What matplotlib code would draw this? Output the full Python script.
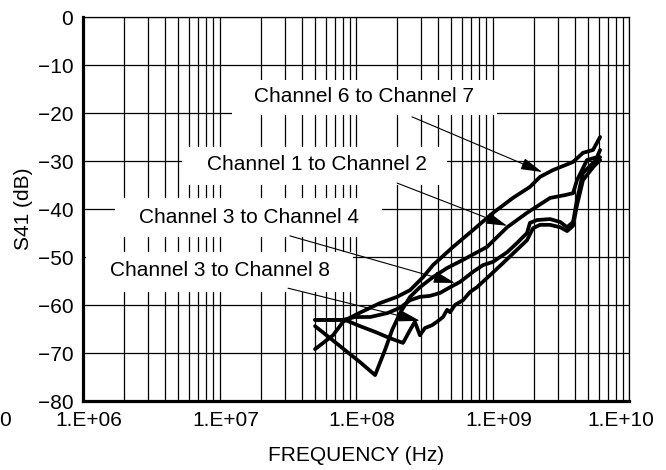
import matplotlib
matplotlib.use("Agg")
import matplotlib.pyplot as plt
from matplotlib.patches import Rectangle
from matplotlib.ticker import LogLocator, NullFormatter

plt.rcParams['font.family'] = ['Liberation Sans', 'DejaVu Sans']
FS = 15

# ---------------- data ----------------
f_ch67 = [5.01e7, 6.79e7, 8.04e7, 9.84e7, 1.50e8, 2.00e8, 2.49e8, 3.10e8, 3.66e8,
          5.14e8, 7.19e8, 1.01e9, 1.41e9, 1.88e9, 2.23e9, 2.77e9, 3.89e9, 4.60e9,
          5.45e9, 6.14e9]
s_ch67 = [-69.2, -66.3, -63.5, -62.1, -59.6, -58.3, -56.9, -54.2, -51.7,
          -47.9, -44.4, -40.8, -37.7, -35.4, -33.3, -31.9, -30.2, -28.3,
          -27.7, -25.0]

f_ch12 = [5.01e7, 6.46e7, 8.30e7, 1.07e8, 1.38e8, 1.63e8, 1.84e8, 2.10e8, 2.49e8,
          2.94e8, 3.66e8, 4.65e8, 6.08e8, 9.12e8, 1.28e9, 1.79e9, 2.64e9, 3.40e9,
          3.89e9, 4.16e9, 4.92e9, 5.83e9, 6.14e9]
s_ch12 = [-64.4, -66.9, -69.4, -71.9, -74.6, -69.4, -65.2, -61.7, -58.3,
          -56.3, -54.2, -52.3, -50.6, -47.9, -43.8, -40.8, -37.7, -37.1,
          -36.7, -34.0, -29.8, -29.2, -27.7]

f_ch34 = [5.01e7, 6.46e7, 8.04e7, 9.84e7, 1.27e8, 1.69e8, 2.10e8, 2.49e8, 2.94e8,
          3.48e8, 4.12e8, 4.89e8, 5.78e8, 7.19e8, 8.51e8, 1.01e9, 1.28e9, 1.51e9,
          1.79e9, 1.88e9, 2.12e9, 2.64e9, 3.13e9, 3.52e9, 3.89e9, 4.16e9, 4.60e9,
          5.45e9, 6.14e9]
s_ch34 = [-63.1, -63.1, -63.1, -62.5, -62.5, -61.7, -60.6, -59.0, -58.3,
          -58.1, -57.5, -56.3, -55.2, -53.1, -51.7, -51.0, -49.0, -47.1,
          -45.0, -42.9, -42.3, -42.1, -42.7, -43.8, -42.7, -38.1, -32.5,
          -30.4, -29.2]

f_ch38 = [5.01e7, 6.46e7, 8.30e7, 1.07e8, 1.38e8, 1.77e8, 2.21e8, 2.49e8, 2.70e8,
          2.94e8, 3.20e8, 3.61e8, 3.92e8, 4.34e8, 4.65e8, 4.89e8, 5.31e8, 6.08e8,
          6.84e8, 7.69e8, 9.59e8, 1.19e9, 1.51e9, 1.79e9, 1.98e9, 2.23e9, 2.64e9,
          3.13e9, 3.52e9, 3.89e9, 4.16e9, 4.60e9, 5.45e9, 6.14e9]
s_ch38 = [-63.1, -63.1, -63.1, -64.4, -65.6, -66.9, -67.9, -65.2, -63.5,
          -66.3, -64.8, -64.2, -63.5, -62.5, -61.0, -61.5, -60.0, -59.0,
          -57.3, -56.3, -53.8, -51.3, -48.5, -46.5, -44.0, -43.3, -43.3,
          -43.8, -44.6, -43.5, -39.2, -34.0, -31.3, -29.8]

yticks = [0, -10, -20, -30, -40, -50, -60, -70, -80]
xtick_vals = [1e6, 1e7, 1e8, 1e9, 1e10]
xtick_labels = ["1.E+06", "1.E+07", "1.E+08", "1.E+09", "1.E+10"]

labels = ["Channel 6 to Channel 7", "Channel 1 to Channel 2",
          "Channel 3 to Channel 4", "Channel 3 to Channel 8"]
arrow_start = [(2.57e8, -20.8), (2.0e8, -34.6), (3.28e7, -45.6), (3.18e7, -56.5)]
arrow_tip = [(2.31e9, -32.3), (1.28e9, -43.5), (5.31e8, -55.4), (2.94e8, -63.3)]

# --------------- layout ---------------
W, H = 666, 470
fig = plt.figure(figsize=(W / 100, H / 100), dpi=100)
ax = fig.add_axes([83 / W, (H - 401) / H, (629 - 83) / W, (401 - 17) / H])

ax.set_xscale('log')
ax.set_xlim(1e6, 1e10)
ax.set_ylim(-80, 0)

ax.xaxis.set_minor_locator(LogLocator(base=10, subs=range(2, 10), numticks=100))
ax.xaxis.set_minor_formatter(NullFormatter())
ax.set_xticks(xtick_vals)
ax.set_xticklabels([])
ax.set_yticks(yticks)
ax.set_yticklabels([str(v).replace('-', '\u2212') for v in yticks], fontsize=FS)
ax.tick_params(axis='both', which='both', length=0)
ax.tick_params(axis='y', pad=7)

ax.set_axisbelow(True)
ax.grid(True, which='both', axis='x', color='black', lw=0.9)
ax.grid(True, which='major', axis='y', color='black', lw=0.9)

for side in ['left', 'bottom']:
    ax.spines[side].set_linewidth(2.3)
for side in ['top', 'right']:
    ax.spines[side].set_linewidth(0.9)

# x tick labels (slightly offset like the original)
for v, lab in zip(xtick_vals, xtick_labels):
    ax.annotate(lab, xy=(v, 0), xycoords=('data', 'axes fraction'),
                xytext=(6 if v < 1e10 else -8, -20), textcoords='offset pixels',
                ha='center', va='center', fontsize=FS, annotation_clip=False)
fig.text(5 / W, 1 - 420 / H, "0", ha='center', va='center', fontsize=FS)

ax.set_xlabel("FREQUENCY (Hz)", fontsize=FS, labelpad=29)
ax.set_ylabel("S41 (dB)", fontsize=FS, labelpad=3)

# white label boxes (hide gridlines)
boxes = [(0.273, 0.745, 0.758, 0.836), (0.181, 0.5625, 0.667, 0.661),
         (0.0586, 0.427, 0.548, 0.529), (0.0055, 0.284, 0.4945, 0.388)]
text_pos = [(0.5147, 0.7917), (0.4286, 0.6146), (0.304, 0.479), (0.251, 0.341)]
for (x0, y0, x1, y1) in boxes:
    ax.add_patch(Rectangle((x0, y0), x1 - x0, y1 - y0, transform=ax.transAxes,
                           facecolor='white', edgecolor='none', zorder=1))
for (tx, ty), lab in zip(text_pos, labels):
    ax.text(tx, ty, lab, transform=ax.transAxes, ha='center', va='center',
            fontsize=FS, zorder=4)

# curves
for f, s in [(f_ch67, s_ch67), (f_ch12, s_ch12), (f_ch34, s_ch34), (f_ch38, s_ch38)]:
    ax.plot(f, s, color='black', lw=2.7, solid_joinstyle='round',
            solid_capstyle='round', zorder=3)

# arrows
for st, tp in zip(arrow_start, arrow_tip):
    ax.annotate("", xy=tp, xytext=st, xycoords='data',
                arrowprops=dict(arrowstyle='-|>,head_length=1.1,head_width=0.3',
                                color='black', lw=0.8, shrinkA=0, shrinkB=0,
                                mutation_scale=12), zorder=4)

fig.savefig("out.png", dpi=100)
